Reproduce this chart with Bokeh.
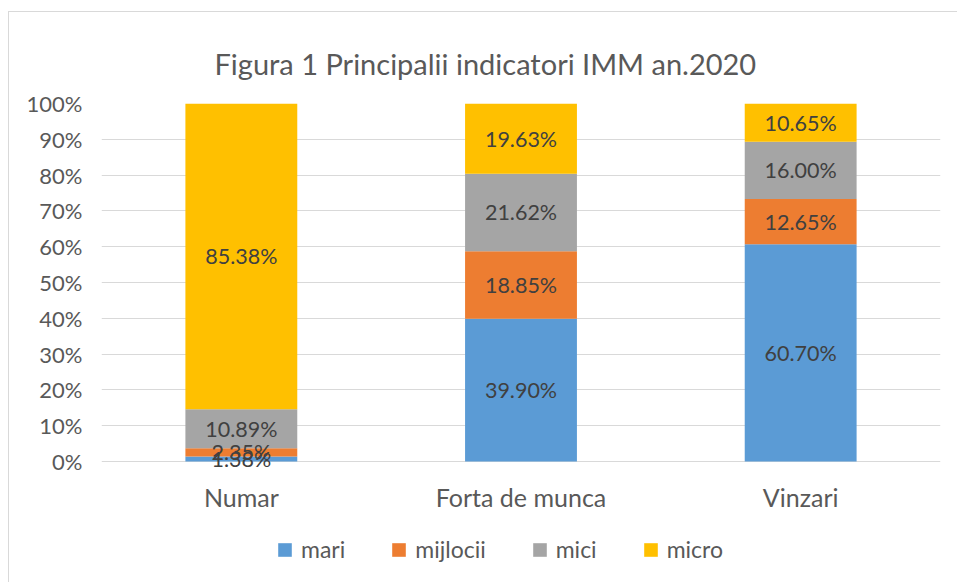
from bokeh.plotting import figure
from bokeh.models import FactorRange, NumeralTickFormatter, Legend, LegendItem, ColumnDataSource, FixedTicker
from bokeh.core.properties import value
from bokeh.embed import file_html
from bokeh.resources import INLINE
import numpy as np

categories = ["Numar", "Forta de munca", "Vinzari"]
series = ["mari", "mijlocii", "mici", "micro"]
mari = [1.38, 39.90, 60.70]
mijlocii = [2.35, 18.85, 12.65]
mici = [10.89, 21.62, 16.00]
micro = [85.38, 19.63, 10.65]
colors = ["#5B9BD5", "#ED7D31", "#A5A5A5", "#FFC000"]
y_ticks = [0, 0.1, 0.2, 0.3, 0.4, 0.5, 0.6, 0.7, 0.8, 0.9, 1.0]
title_text = "Figura 1 Principalii indicatori IMM an.2020"

FONT = "Lato"
TXT = "#595959"

# canvas geometry (canvas placed at page x=9, y=12 by the margin + border below)
W, H = 949, 571
TOP, ZERO_PX = 91, 449
PX_PER_UNIT = ZERO_PX - TOP
y_start = -(H - ZERO_PX) / PX_PER_UNIT
cat_label_y = -(484 - ZERO_PX) / PX_PER_UNIT

data = {"cat": categories}
for name, vals in zip(series, [mari, mijlocii, mici, micro]):
    data[name] = [v / 100 for v in vals]
src = ColumnDataSource(data)

p = figure(x_range=FactorRange(*categories), y_range=(y_start, 1),
           width=W, height=H, output_backend="svg", toolbar_location=None,
           min_border_left=92, min_border_right=18, min_border_top=TOP, min_border_bottom=0)

renderers = p.vbar_stack(series, x="cat", width=0.4, color=colors, line_color=None, source=src)

# data labels
vals = np.array([mari, mijlocii, mici, micro]) / 100.0
tops = np.cumsum(vals, axis=0)
centers = tops - vals / 2
lx, ly, lt = [], [], []
for si in range(len(series)):
    for ci, c in enumerate(categories):
        lx.append(c)
        ly.append(float(centers[si, ci]))
        lt.append("%.2f%%" % (vals[si, ci] * 100))
p.text(x=lx, y=ly, text=lt, text_align="center", text_baseline="middle",
       text_font=value(FONT), text_font_size="21.5px", text_color="#404040")

# category labels (x axis is hidden so that the legend can sit inside the frame)
p.text(x=categories, y=[cat_label_y] * len(categories), text=categories,
       text_align="center", text_baseline="middle",
       text_font=value(FONT), text_font_size="25px", text_color=TXT)
p.xaxis.visible = False

p.title.text = title_text
p.title.align = "left"
p.title.offset = 113
p.title.text_font = FONT
p.title.text_font_size = "29px"
p.title.text_font_style = "normal"
p.title.text_color = TXT
p.title.standoff = 46

p.yaxis.ticker = FixedTicker(ticks=y_ticks)
p.yaxis.formatter = NumeralTickFormatter(format="0%")
ax = p.yaxis[0]
ax.axis_line_color = None
ax.major_tick_line_color = None
ax.minor_tick_line_color = None
ax.major_tick_out = 0
ax.major_tick_in = 0
ax.major_label_text_font = FONT
ax.major_label_text_color = TXT
ax.major_label_text_font_size = "22px"
ax.major_label_standoff = 19

p.xgrid.grid_line_color = None
p.ygrid.grid_line_color = "#D9D9D9"
p.ygrid.grid_line_width = 1
p.outline_line_color = None

items = [LegendItem(label=s, renderers=[r]) for s, r in zip(series, renderers)]
legend = Legend(items=items, orientation="horizontal", location=(175, 20),
                glyph_width=17, glyph_height=17, label_standoff=8, spacing=45,
                label_text_font=FONT, label_text_font_size="23px", label_text_color=TXT,
                border_line_color=None, background_fill_alpha=0, padding=0, margin=0)
p.add_layout(legend, "center")

p.styles = {"margin-left": "8px", "margin-top": "11px",
            "border-left": "1px solid #D9D9D9", "border-top": "1px solid #D9D9D9"}

open("out.html", "w").write(file_html(p, INLINE))
